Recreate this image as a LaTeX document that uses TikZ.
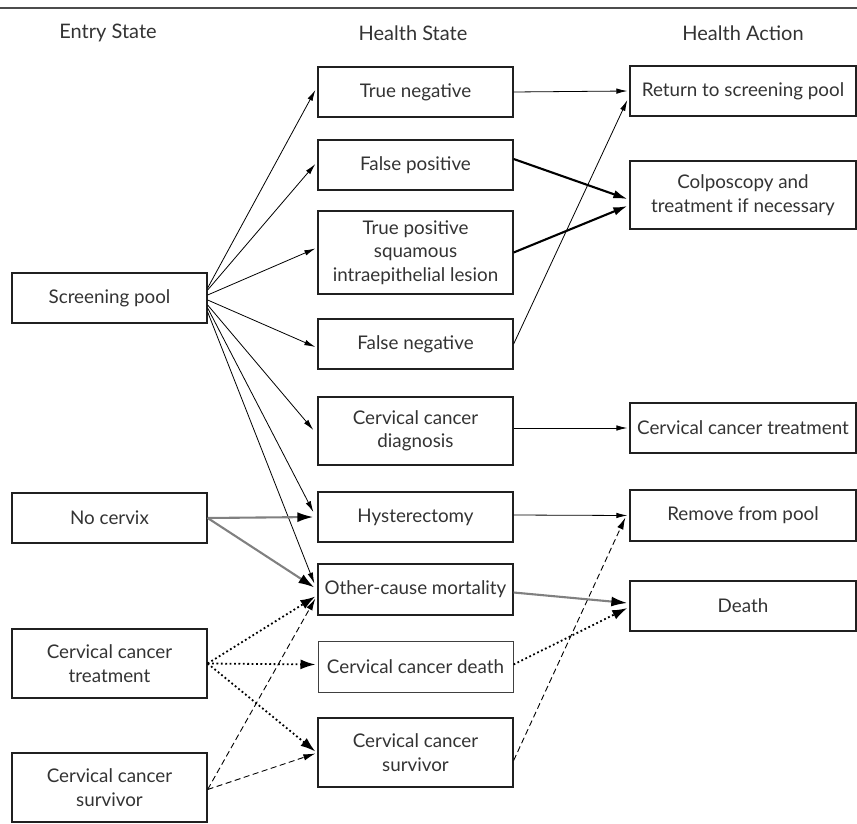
\documentclass[tikz,border=0pt]{standalone}
\usepackage{fontspec}
\setmainfont{Lato}
\usetikzlibrary{arrows.meta,calc}
\definecolor{txt}{HTML}{333333}
\definecolor{bord}{HTML}{202020}
\definecolor{grayline}{HTML}{808080}
\begin{document}
\begin{tikzpicture}[x=1pt,y=-1pt,
  font=\fontsize{18.8}{23.5}\selectfont,
  box/.style={draw=bord, line width=1.3pt, rectangle, inner sep=0pt, align=center, text=txt, minimum width=195pt},
  rbox/.style={box, minimum width=226pt},
  hdr/.style={text=txt, inner sep=0pt, font=\fontsize{20}{24}\selectfont},
  thinarr/.style={draw=black, line width=0.8pt, -{Latex[length=11pt,width=5.5pt]}},
  boldarr/.style={draw=black, line width=2.1pt, -{Latex[length=14pt,width=8.5pt]}},
  grayarr/.style={draw=grayline, line width=2.1pt, -{Latex[length=16pt,width=10pt,color=black]}},
  dotarr/.style={draw=black, line width=1.8pt, dash pattern=on 1.8pt off 2.6pt, -{Latex[length=15pt,width=10pt]}},
  dasharr/.style={draw=black, line width=0.9pt, dash pattern=on 6pt off 3.5pt, -{Latex[length=12pt,width=6.5pt]}}
]
\useasboundingbox (0,0) rectangle (857,824);
\draw[draw=black!70, line width=1.2pt] (0,8) -- (857,8);

% headers
\node[hdr] (h1) at (108,33) {Entry State};
\node[hdr] (h2) at (413,33) {Health State};
\node[hdr] (h3) at (743,33) {Health Action};

% left column
\node[box, minimum height=50pt] (sp) at (109.5,298) {Screening pool};
\node[box, minimum height=50pt] (nc) at (109.5,518) {No cervix};
\node[box, minimum height=69pt] (cct) at (109.5,663.5) {Cervical cancer\\treatment};
\node[box, minimum height=69pt] (ccsl) at (109.5,787.5) {Cervical cancer\\survivor};

% middle column
\node[box, minimum height=50pt] (tn) at (415.5,92) {True negative};
\node[box, minimum height=50pt] (fp) at (415.5,165) {False positive};
\node[box, minimum height=83pt] (tp) at (415.5,252.5) {True positive\\squamous\\intraepithelial lesion};
\node[box, minimum height=50pt] (fn) at (415.5,344) {False negative};
\node[box, minimum height=68pt] (diag) at (415.5,431) {Cervical cancer\\diagnosis};
\node[box, minimum height=50pt] (hyst) at (415.5,517) {Hysterectomy};
\node[box, minimum height=51pt] (ocm) at (415.5,589.5) {Other-cause mortality};
\node[box, minimum height=51pt, draw=black!75, line width=1pt] (ccd) at (415.5,666.5) {Cervical cancer death};
\node[box, minimum height=69pt] (ccsm) at (415.5,752.5) {Cervical cancer\\survivor};

% right column
\node[rbox, minimum height=50pt] (rts) at (743,91) {Return to screening pool};
\node[rbox, minimum height=68pt] (col) at (743,195) {Colposcopy and\\treatment if necessary};
\node[rbox, minimum height=50pt] (cctr) at (743,428) {Cervical cancer treatment};
\node[rbox, minimum height=51pt] (rfp) at (743,515.5) {Remove from pool};
\node[rbox, minimum height=50pt] (death) at (743,606) {Death};

% screening pool fan
\draw[thinarr] ($(sp.east)+(0,-10)$) -- ($(tn.west)+(-2,-2)$);
\draw[thinarr] ($(sp.east)+(0,-8)$) -- ($(fp.west)+(-2,-1)$);
\draw[thinarr] ($(sp.east)+(0,-3)$) -- ($(tp.west)+(-2,-4)$);
\draw[thinarr] ($(sp.east)+(0,2)$) -- ($(fn.west)+(-2,3)$);
\draw[thinarr] ($(sp.east)+(0,7)$) -- ($(diag.west)+(-4,-1)$);
\draw[thinarr] ($(sp.east)+(0,10)$) -- ($(hyst.west)+(-4,-5)$);
\draw[thinarr] ($(sp.east)+(0,14)$) -- ($(ocm.west)+(-3,-6)$);

% no cervix
\draw[grayarr] (nc.east) -- ($(hyst.west)+(-4,0)$);
\draw[grayarr] (nc.east) -- ($(ocm.west)+(-3,-2)$);

% cervical cancer treatment (dotted)
\draw[dotarr] (cct.east) -- ($(ocm.west)+(-2,7)$);
\draw[dotarr] (cct.east) -- ($(ccd.west)+(-2,-2)$);
\draw[dotarr] (cct.east) -- ($(ccsm.west)+(-2,-1)$);

% cervical cancer survivor (dashed)
\draw[dasharr] ($(ccsl.east)+(0,2)$) -- ($(ocm.west)+(-2,9)$);
\draw[dasharr] ($(ccsl.east)+(0,2)$) -- ($(ccsm.west)+(-2,1)$);

% middle to right
\draw[thinarr] (tn.east) -- ($(rts.west)+(-2,0)$);
\draw[boldarr] ($(fp.east)+(0,-6)$) -- ($(col.west)+(-2,4)$);
\draw[boldarr] ($(tp.east)+(0,0)$) -- ($(col.west)+(-2,11)$);
\draw[thinarr] (fn.east) -- ($(rts.west)+(-2,9)$);
\draw[thinarr] ($(diag.east)+(0,-3)$) -- ($(cctr.west)+(-2,0)$);
\draw[thinarr] ($(hyst.east)+(0,-2)$) -- ($(rfp.west)+(-2,0)$);
\draw[dasharr] ($(ccsm.east)+(0,8)$) -- ($(rfp.west)+(-4,2)$);
\draw[grayarr] ($(ocm.east)+(0,3)$) -- ($(death.west)+(-2,-3)$);
\draw[dotarr] ($(ccd.east)+(0,-2)$) -- ($(death.west)+(-2,2)$);
\end{tikzpicture}
\end{document}
